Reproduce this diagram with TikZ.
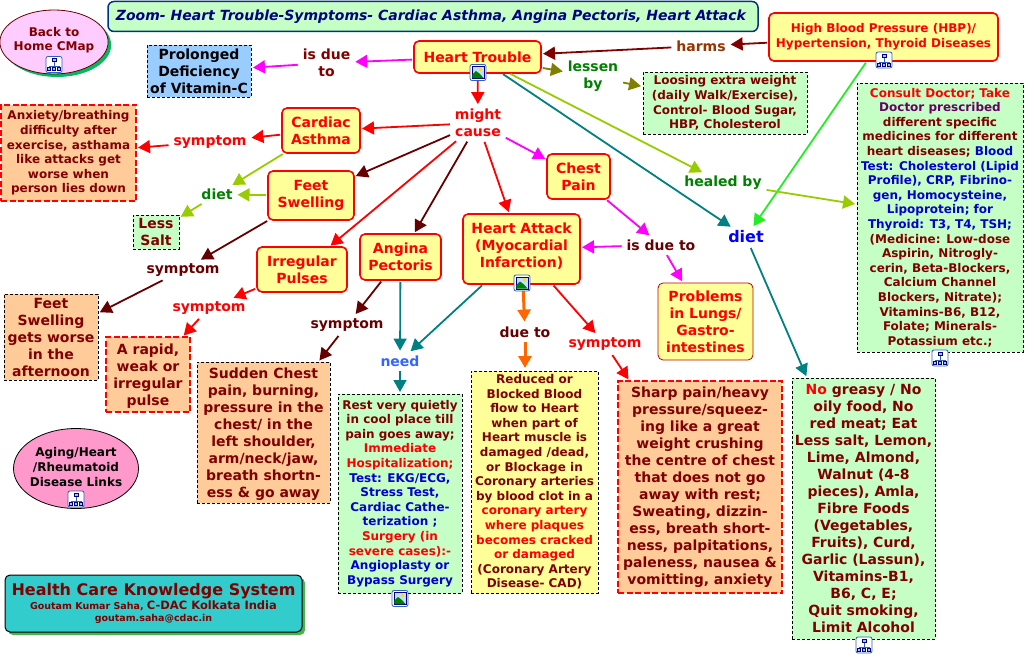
\documentclass[tikz,border=0pt]{standalone}
\usepackage{fontspec}
\setmainfont{DejaVu Sans}
\usetikzlibrary{arrows.meta,shapes.geometric,shadows}

\definecolor{paleyellow}{HTML}{FFFF99}
\definecolor{palegreen}{HTML}{C6FFC6}
\definecolor{paleorange}{HTML}{FFCC99}
\definecolor{paleblue}{HTML}{99CCFF}
\definecolor{paleviolet}{HTML}{FFCCFF}
\definecolor{palepink}{HTML}{FF99CC}
\definecolor{darkred}{HTML}{800000}
\definecolor{deepred}{HTML}{660000}
\definecolor{hotred}{HTML}{FF0000}
\definecolor{tealline}{HTML}{008080}
\definecolor{limeline}{HTML}{99CC00}
\definecolor{oliveline}{HTML}{808000}
\definecolor{magline}{HTML}{FF00FF}
\definecolor{orangeline}{HTML}{FF6600}
\definecolor{brightgreen}{HTML}{22EE22}
\definecolor{linkgreen}{HTML}{008000}
\definecolor{navytitle}{HTML}{000080}
\definecolor{needblue}{HTML}{3366FF}
\definecolor{purpletext}{HTML}{660066}
\definecolor{brownlabel}{HTML}{993300}
\definecolor{tealbox}{HTML}{33CCCC}
\definecolor{iconblue}{HTML}{3060C0}

\tikzset{
  smalltext/.style={font=\fontsize{12}{14.6}\selectfont\bfseries,align=center},
  bigtext/.style={font=\fontsize{14}{17}\selectfont\bfseries,align=center},
  boxbase/.style={inner sep=0pt,outer sep=0pt},
  hotbox/.style={boxbase,bigtext,draw=hotred,line width=1.6pt,rounded corners=5pt,fill=paleyellow,text=hotred},
  dashblack/.style={boxbase,draw=black,dash pattern=on 3pt off 2pt,line width=0.8pt},
  dashred/.style={boxbase,draw=hotred,dash pattern=on 6pt off 2.5pt,line width=1.6pt,fill=paleorange,text=darkred},
  linkword/.style={boxbase,inner xsep=3pt,inner ysep=3pt,bigtext},
  conn/.style={-{Triangle[length=12pt,width=13pt]},line width=1.8pt,shorten >=2pt,shorten <=2pt},
  % the two little link icons of the concept map
  mapicon/.pic={
    \draw[draw=iconblue,fill=white,line width=0.8pt,rounded corners=2pt] (-8,-8) rectangle (8,8);
    \draw[draw=iconblue,line width=0.6pt] (0,-3)--(0,2) (-5,2)--(5,2)--(5,3) (-5,2)--(-5,3) (0,2)--(0,3);
    \draw[draw=navytitle,fill=iconblue!40,line width=0.6pt] (-2,-6) rectangle (2,-3);
    \draw[draw=navytitle,fill=iconblue!40,line width=0.6pt] (-6.5,3) rectangle (-3.5,6);
    \draw[draw=navytitle,fill=iconblue!40,line width=0.6pt] (-1.5,3) rectangle (1.5,6);
    \draw[draw=navytitle,fill=iconblue!40,line width=0.6pt] (3.5,3) rectangle (6.5,6);
  },
  photoicon/.pic={
    \draw[draw=iconblue,fill=white,line width=0.8pt,rounded corners=2pt] (-8,-8) rectangle (8,8);
    \draw[draw=navytitle,fill=paleblue!60,line width=0.6pt] (-6,-6) rectangle (6,6);
    \fill[yellow!80!orange] (2.5,-3) circle (1.8);
    \fill[green!50!black] (-5.6,5.6)--(-5.6,2)--(-2,-1.5)--(2,1.5)--(5.6,5.6)--cycle;
  },
}

\begin{document}
\begin{tikzpicture}[x=1pt,y=-1pt]
  \useasboundingbox (0,0) rectangle (1025,655);

  % title and the corner links
  \node[boxbase,draw=navytitle!60!teal,fill=palegreen,line width=1.5pt,rounded corners=6pt,minimum width=650pt,minimum height=30pt,
        font=\fontsize{14}{17}\selectfont\bfseries\itshape,text=navytitle] (title) at (433,16.5)
        {Zoom- Heart Trouble-Symptoms- Cardiac Asthma, Angina Pectoris, Heart Attack\hspace*{4pt}};
  \node[ellipse,boxbase,inner xsep=-2pt,smalltext,draw=deepred,fill=paleviolet,line width=0.8pt,minimum width=107pt,minimum height=64pt,text=darkred,
        drop shadow={shadow xshift=3pt,shadow yshift=-3pt,fill=teal!60!green!90!cyan,opacity=1}] (home) at (54,42)
        {Back to\\Home CMap\\[-8.6pt]\mbox{}};
  \node[ellipse,boxbase,inner xsep=-3pt,smalltext,draw=black,fill=palepink,line width=0.8pt,minimum width=125pt,minimum height=80pt] (aging) at (76,468.5)
        {Aging/Heart\\/Rheumatoid\\Disease Links\\[-11.6pt]\mbox{}};
  \node[boxbase,draw=black,fill=tealbox,line width=1pt,rounded corners=5pt,minimum width=297pt,minimum height=57pt,text=darkred,align=center,
        drop shadow={shadow xshift=3pt,shadow yshift=-3pt,fill=green!40!gray,opacity=1}] (system) at (153.5,603.5)
        {{\fontsize{16}{20}\selectfont\bfseries Health Care Knowledge System}\\[1pt]
         {\fontsize{9.5}{13}\selectfont\bfseries Goutam Kumar Saha, {\fontsize{11.5}{13}\selectfont C-DAC Kolkata India}}\\
         {\fontsize{9.5}{11.5}\selectfont\bfseries goutam.saha@cdac.in}};

  % concepts
  \node[hotbox,minimum width=127pt,minimum height=32pt] (trouble) at (477.5,57) {Heart Trouble};
  \node[hotbox,smalltext,minimum width=229pt,minimum height=48pt] (pressure) at (883.5,37) {High Blood Pressure (HBP)/\\Hypertension, Thyroid Diseases};
  \node[hotbox,minimum width=78pt,minimum height=45pt] (asthma) at (321,130.5) {Cardiac\\Asthma};
  \node[hotbox,minimum width=86pt,minimum height=49pt] (swelling) at (311,195.5) {Feet\\Swelling};
  \node[hotbox,minimum width=90pt,minimum height=45pt] (pulses) at (302,269.5) {Irregular\\Pulses};
  \node[hotbox,minimum width=81pt,minimum height=46pt] (angina) at (400.5,257) {Angina\\Pectoris};
  \node[hotbox,minimum width=117pt,minimum height=70pt] (attack) at (521.5,249) {Heart Attack\\(Myocardial\\Infarction)\\[-10pt]\mbox{}};
  \node[hotbox,minimum width=63pt,minimum height=45pt] (chest) at (578.5,176.5) {Chest\\Pain};
  \node[hotbox,line width=0.8pt,draw=red!75!black,minimum width=95pt,minimum height=77pt] (lungs) at (705.5,321.5) {Problems\\in Lungs/\\Gastro-\\intestines};

  % boxes of text
  \node[dashblack,bigtext,fill=paleblue,minimum width=104pt,minimum height=52pt] (vitamin) at (199,71) {Prolonged\\Deficiency\\of Vitamin-C};
  \node[dashred,smalltext,minimum width=135pt,minimum height=96pt] (anxiety) at (68.5,153)
        {Anxiety/breathing\\difficulty after\\exercise, asthama\\like attacks get\\worse when\\person lies down};
  \node[dashblack,bigtext,fill=palegreen,text=darkred,minimum width=46pt,minimum height=34pt] (salt) at (156,232) {Less\\Salt};
  \node[dashblack,bigtext,fill=paleorange,text=darkred,minimum width=94pt,minimum height=86pt] (worse) at (51,337) {Feet\\Swelling\\gets worse\\in the\\afternoon};
  \node[dashred,bigtext,minimum width=84pt,minimum height=75pt] (rapid) at (148,374.5) {\mbox{}\\[-3pt]A rapid,\\weak or\\irregular\\pulse};
  \node[dashblack,bigtext,fill=paleorange,text=darkred,minimum width=133pt,minimum height=141pt] (sudden) at (263.5,432.5)
        {\mbox{}\\[-3pt]Sudden Chest\\pain, burning,\\pressure in the\\chest/ in the\\left shoulder,\\arm/neck/jaw,\\breath shortn-\\ess \& go away};
  \node[dashblack,smalltext,fill=palegreen,text=darkred,minimum width=124pt,minimum height=199pt] (rest) at (400,493.5)
        {Rest very quietly\\in cool place till\\pain goes away;\\\textcolor{hotred}{Immediate}\\\textcolor{hotred}{Hospitalization;}\\
         \textcolor{blue!80!black}{Test: EKG/ECG,}\\\textcolor{blue!80!black}{Stress Test,}\\\textcolor{blue!80!black}{Cardiac Cathe-}\\\textcolor{blue!80!black}{terization ;}\\
         \textcolor{hotred}{Surgery (in}\\\textcolor{hotred}{severe cases):-}\\\textcolor{blue!80!black}{Angioplasty or}\\\textcolor{blue!80!black}{Bypass Surgery}};
  \node[dashblack,smalltext,fill=paleyellow,text=darkred,minimum width=127pt,minimum height=222pt] (reduced) at (534.5,482)
        {Reduced or\\Blocked Blood\\flow to Heart\\when part of\\Heart muscle is\\damaged /dead,\\or Blockage in\\Coronary arteries\\by blood clot in a\\
         \textcolor{hotred}{coronary artery}\\\textcolor{hotred}{where plaques}\\\textcolor{hotred}{becomes cracked}\\\textcolor{hotred}{or damaged}\\(Coronary Artery\\Disease- CAD)};
  \node[dashred,bigtext,minimum width=164pt,minimum height=212pt] (sharp) at (700,487)
        {Sharp pain/heavy\\pressure/squeez-\\ing like a great\\weight crushing\\the centre of chest\\that does not go\\away with rest;\\Sweating, dizzin-\\ess, breath short-\\ness, palpitations,\\paleness, nausea \&\\vomitting, anxiety};
  \node[dashblack,bigtext,fill=palegreen,text=darkred,minimum width=143pt,minimum height=261pt] (food) at (863.5,508.5)
        {\textcolor{hotred}{No} greasy / No\\oily food, No\\red meat; Eat\\Less salt, Lemon,\\Lime, Almond,\\Walnut (4-8\\pieces), Amla,\\Fibre Foods\\(Vegetables,\\Fruits), Curd,\\Garlic (Lassun),\\Vitamins-B1,\\B6, C, E;\\Quit smoking,\\Limit Alcohol};
  \node[dashblack,smalltext,fill=palegreen,text=darkred,minimum width=164pt,minimum height=62pt] (weight) at (725,103)
        {Loosing extra weight\\(daily Walk/Exercise),\\Control- Blood Sugar,\\HBP, Cholesterol};
  \node[dashblack,smalltext,fill=palegreen,text=darkred,minimum width=166pt,minimum height=269pt] (consult) at (940,217.5)
        {\textcolor{hotred}{Consult Doctor; Take}\\\textcolor{purpletext}{Doctor prescribed}\\different specific\\medicines for different\\heart diseases; \textcolor{blue!80!black}{Blood}\\
         \textcolor{blue!80!black}{Test: Cholesterol (Lipid}\\\textcolor{blue!80!black}{Profile), CRP, Fibrino-}\\\textcolor{blue!80!black}{gen, Homocysteine,}\\\textcolor{blue!80!black}{Lipoprotein; for}\\\textcolor{blue!80!black}{Thyroid: T3, T4, TSH;}\\
         (Medicine: Low-dose\\Aspirin, Nitrogly-\\cerin, Beta-Blockers,\\Calcium Channel\\Blockers, Nitrate);\\Vitamins-B6, B12,\\Folate; Minerals-\\Potassium etc.;};

  % linking words
  \node[linkword,text=darkred] (duevit) at (326.5,63) {is due\\to};
  \node[linkword,text=hotred] (mightcause) at (478,123) {might\\cause};
  \node[linkword,text=hotred] (symasthma) at (210,142) {symptom};
  \node[linkword,text=linkgreen] (dietsalt) at (217,194.5) {diet};
  \node[linkword,text=deepred] (symfeet) at (183,270) {symptom};
  \node[linkword,text=hotred] (sympulse) at (209,308) {symptom};
  \node[linkword,text=deepred] (symangina) at (347,325) {symptom};
  \node[linkword,text=needblue] (need) at (400,361) {need};
  \node[linkword,text=deepred] (dueattack) at (525,332) {due to};
  \node[linkword,text=hotred] (symattack) at (605,344) {symptom};
  \node[linkword,text=deepred] (duechest) at (661,245) {is due to};
  \node[linkword,text=blue,font=\fontsize{16}{18}\selectfont\bfseries] (diet) at (746,237) {diet};
  \node[linkword,text=linkgreen] (healed) at (723,183) {healed by};
  \node[linkword,text=linkgreen] (lessen) at (593,76.5) {lessen\\by};
  \node[linkword,text=brownlabel] (harms) at (701,46) {harms};

  % connectors
  \draw[conn,magline] (trouble)--(duevit);
  \draw[conn,magline] (duevit)--(vitamin);
  \draw[conn,hotred] (trouble)--(mightcause);
  \draw[conn,hotred] (mightcause)--(asthma);
  \draw[conn,hotred] (asthma)--(symasthma);
  \draw[conn,hotred] (symasthma)--(anxiety);
  \draw[conn,limeline] (asthma)--(dietsalt);
  \draw[conn,limeline] (swelling)--(dietsalt);
  \draw[conn,limeline] (dietsalt)--(salt);
  \draw[conn,deepred] (mightcause)--(swelling);
  \draw[conn,hotred] (mightcause)--(pulses);
  \draw[conn,deepred] (mightcause)--(angina);
  \draw[conn,hotred] (mightcause)--(attack);
  \draw[conn,magline] (mightcause)--(chest);
  \draw[conn,deepred] (swelling)--(symfeet);
  \draw[conn,deepred] (symfeet)--(worse);
  \draw[conn,hotred] (pulses)--(sympulse);
  \draw[conn,hotred] (sympulse)--(rapid);
  \draw[conn,deepred] (angina)--(symangina);
  \draw[conn,deepred] (symangina)--(sudden);
  \draw[conn,tealline] (angina)--(need);
  \draw[conn,tealline] (attack)--(need);
  \draw[conn,tealline] (need)--(rest);
  \draw[conn,orangeline,line width=3pt] (attack)--(dueattack);
  \draw[conn,orangeline,line width=3pt,shorten >=3pt] (dueattack)--(dueattack|-reduced.north);
  \draw[conn,hotred] (attack)--(symattack);
  \draw[conn,hotred] (symattack)--(sharp);
  \draw[conn,magline] (duechest)--(attack);
  \draw[conn,magline] (chest)--(duechest);
  \draw[conn,magline] (duechest)--(lungs);
  \draw[conn,tealline] (trouble)--(diet);
  \draw[conn,tealline] (diet)--(food);
  \draw[conn,brightgreen] (pressure)--(diet);
  \draw[conn,darkred] (pressure)--(harms);
  \draw[conn,darkred] (harms)--(trouble);
  \draw[conn,oliveline] (trouble)--(lessen);
  \draw[conn,oliveline] (lessen)--(weight);
  \draw[conn,limeline] (trouble)--(healed);
  \draw[conn,limeline] (healed)--(consult);

  % icons go over the line ends
  \pic at (54,64.5) {mapicon};
  \pic at (76,499) {mapicon};
  \pic at (884,60) {mapicon};
  \pic at (940,358) {mapicon};
  \pic at (864,645) {mapicon};
  \pic at (478,72.5) {photoicon};
  \pic at (522,283) {photoicon};
  \pic at (400,598.5) {photoicon};
\end{tikzpicture}
\end{document}
